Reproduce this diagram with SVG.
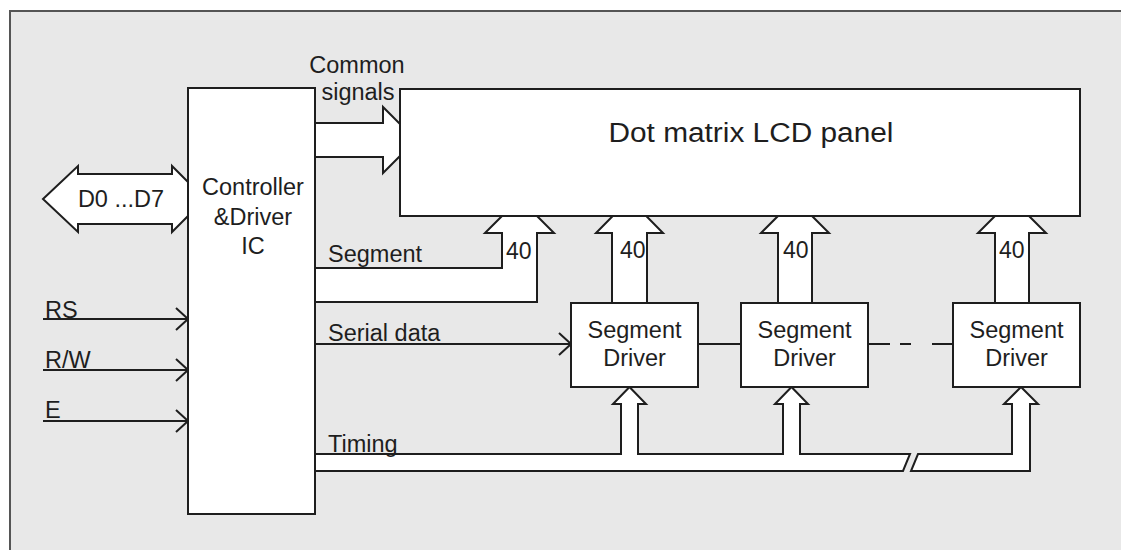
<svg xmlns="http://www.w3.org/2000/svg" width="1121" height="550" viewBox="0 0 1121 550">
<style>
.t{font-family:"Liberation Sans",Arial,sans-serif;font-size:23.5px;fill:#1e1e1e}
.n{font-size:23px}
.c{text-anchor:middle}
.box{fill:#fff;stroke:#1e1e1e;stroke-width:2}
.bus{fill:#fff;stroke:#1e1e1e;stroke-width:2;stroke-linejoin:miter}
.ln{fill:none;stroke:#1e1e1e;stroke-width:2}
</style>
<defs>
<marker id="chev" viewBox="0 0 14 24" refX="13" refY="12" markerWidth="14" markerHeight="24" markerUnits="userSpaceOnUse" orient="auto">
<path d="M1,1 L13,12 L1,23" fill="none" stroke="#1e1e1e" stroke-width="2"/>
</marker>
</defs>
<rect x="10" y="11" width="1130" height="560" fill="#e8e8e8" stroke="#555" stroke-width="2"/>
<g id="connectors">
<polygon class="bus" points="43,199 78,166 78,174 172,174 172,166 205,199 172,232 172,224 78,224 78,232"/>
<polygon class="bus" points="315,123 383,123 383,107 416,140 383,173 383,157 315,157"/>
<polygon class="bus" points="315,268 502,268 502,233 485,233 519.5,198.5 554,233 537,233 537,302 315,302"/>
<polygon class="bus" points="612,303 612,233 596,233 629.5,199 663,233 647,233 647,303"/>
<polygon class="bus" points="778,303 778,233 761,233 795,199 829,233 812,233 812,303"/>
<polygon class="bus" points="995,303 995,233 978,233 1012,199 1046,233 1029,233 1029,303"/>
<polygon class="bus" points="315,454 621,454 621,404 613,404 629.5,387 646,404 638,404 638,454 783,454 783,404 775,404 791.5,387 808,404 800,404 800,454 910,454 903,471 315,471"/>
<polygon class="bus" points="918,454 1012,454 1012,404 1004,404 1021,387 1038,404 1030,404 1030,471 911,471"/>
<line class="ln" x1="43" y1="319" x2="188" y2="319" marker-end="url(#chev)"/>
<line class="ln" x1="43" y1="370" x2="188" y2="370" marker-end="url(#chev)"/>
<line class="ln" x1="43" y1="421" x2="188" y2="421" marker-end="url(#chev)"/>
<line class="ln" x1="315" y1="344" x2="571" y2="344" marker-end="url(#chev)"/>
<line class="ln" x1="698" y1="344" x2="741" y2="344"/>
<line class="ln" x1="868" y1="344" x2="953" y2="344" stroke-dasharray="22 10 11 21 22"/>
</g>
<g id="lcd-panel">
<rect class="box" x="400" y="89" width="680" height="127"/>
<text class="t c" x="751" y="142" style="font-size:27px" textLength="285" lengthAdjust="spacingAndGlyphs">Dot matrix LCD panel</text>
</g>
<g id="controller">
<rect class="box" x="188" y="88" width="127" height="426"/>
<text class="t c" x="253" y="195">Controller</text>
<text class="t c" x="253" y="225">&amp;Driver</text>
<text class="t c" x="253" y="254">IC</text>
</g>
<g id="segment-driver-1">
<rect class="box" x="571" y="303" width="127" height="84"/>
<text class="t c" x="634.5" y="338">Segment</text>
<text class="t c" x="634.5" y="366">Driver</text>
</g>
<g id="segment-driver-2">
<rect class="box" x="741" y="303" width="127" height="84"/>
<text class="t c" x="804.5" y="338">Segment</text>
<text class="t c" x="804.5" y="366">Driver</text>
</g>
<g id="segment-driver-3">
<rect class="box" x="953" y="303" width="127" height="84"/>
<text class="t c" x="1016.5" y="338">Segment</text>
<text class="t c" x="1016.5" y="366">Driver</text>
</g>
<g id="labels">
<text class="t c" x="121" y="207">D0 ...D7</text>
<text class="t c" x="357" y="73">Common</text>
<text class="t c" x="358" y="100">signals</text>
<text class="t" x="328" y="262">Segment</text>
<text class="t" x="328" y="341">Serial data</text>
<text class="t" x="328" y="452">Timing</text>
<text class="t" x="45" y="318">RS</text>
<text class="t" x="45" y="368">R/W</text>
<text class="t" x="45" y="418">E</text>
<text class="t n" x="506" y="259">40</text>
<text class="t n" x="620" y="258">40</text>
<text class="t n" x="783" y="258">40</text>
<text class="t n" x="999" y="258">40</text>
</g>
</svg>
